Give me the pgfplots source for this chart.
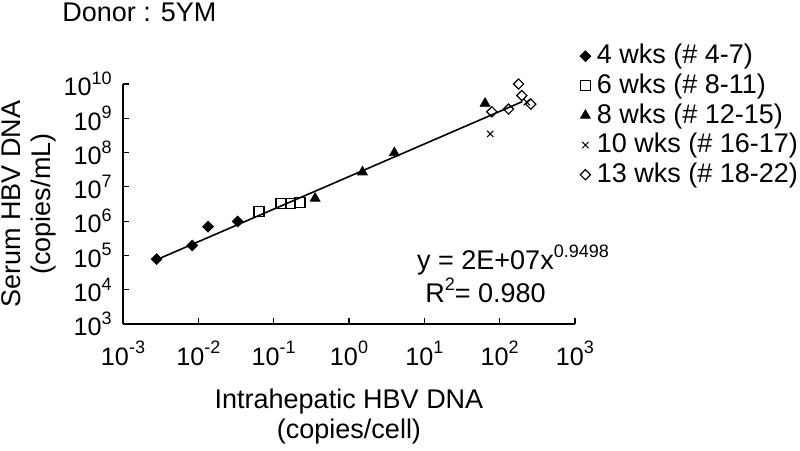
\documentclass[border=0pt]{standalone}
\usepackage{fontspec}
\setmainfont{Liberation Sans}
\usepackage{pgfplots}
\pgfplotsset{compat=1.18}
\newcommand{\sps}[1]{\raisebox{0.85ex}{\fontsize{9}{10}\selectfont #1}}
\newcommand{\mainfs}{\fontsize{13.5}{15}\selectfont}
\newcommand{\tickfs}{\fontsize{12.6}{14}\selectfont}
\begin{document}
\mainfs
\begin{tikzpicture}
\begin{axis}[
  at={(0pt,0pt)}, anchor=south west,
  scale only axis, width=226pt, height=120pt,
  xmode=log, ymode=log,
  xmin=1e-3, xmax=1e3, ymin=1e3, ymax=1e10,
  axis x line*=bottom, axis y line*=left,
  axis line style={line width=0.8pt, black},
  xtick={1e-3,1e-2,1e-1,1,1e1,1e2,1e3},
  xticklabels={10\sps{-3},10\sps{-2},10\sps{-1},10\sps{0},10\sps{1},10\sps{2},10\sps{3}},
  ytick={1e3,1e4,1e5,1e6,1e7,1e8,1e9,1e10},
  yticklabels={10\sps{3},10\sps{4},10\sps{5},10\sps{6},10\sps{7},10\sps{8},10\sps{9},10\sps{10}},
  xminorticks=false, yminorticks=false,
  tick align=inside, major tick length=3pt,
  tick style={line width=0.6pt, black},
  tick label style={font=\tickfs},
  xticklabel style={yshift=-4pt},
  yticklabel style={xshift=-1pt},
  clip=false,
  xlabel={Intrahepatic HBV DNA\\(copies/cell)},
  ylabel={Serum HBV DNA\\(copies/mL)},
  xlabel style={align=center, font=\mainfs, inner sep=0pt, at={(axis description cs:0.5,-0.27)}, anchor=north},
  ylabel style={align=center, font=\mainfs, inner sep=0pt, at={(axis description cs:-0.27,0.5)}, anchor=north},
  legend style={draw=none, fill=none, at={(axis description cs:0.997,1.2)}, anchor=north west, font=\mainfs, row sep=-1pt, column sep=1pt},
  legend cell align=left,
]
\addplot[black, line width=0.8pt, forget plot] coordinates {(0.0028,7.5e4) (200,3.06e9)};
\addplot[only marks, mark=square*, mark size=1.9pt, mark options={rotate=45, fill=black, draw=black}] coordinates {
(0.0028,7.8e4) (0.0083,1.95e5) (0.01346,6.9e5) (0.0333,9.8e5)};
\addlegendentry{4 wks (\# 4-7)}
\addplot[only marks, mark=square, mark size=2.5pt, mark options={draw=black, line width=0.6pt}] coordinates {
(0.064,1.9e6) (0.125,3.2e6) (0.167,3.2e6) (0.224,3.5e6)};
\addlegendentry{6 wks (\# 8-11)}
\addplot[only marks, mark=triangle*, mark size=2.8pt, mark options={fill=black, draw=black}] coordinates {
(0.355,4.6e6) (1.51,2.7e7) (4.0,9.8e7) (64,2.7e9)};
\addlegendentry{8 wks (\# 12-15)}
\addplot[only marks, mark=x, mark size=2.2pt, mark options={draw=black, line width=0.5pt}] coordinates {
(75,3.5e8) (229,2.95e9)};
\addlegendentry{10 wks (\# 16-17)}
\addplot[only marks, mark=square, mark size=1.8pt, mark options={rotate=45, draw=black, fill=white, line width=0.6pt}] coordinates {
(78.7,1.55e9) (131,1.86e9) (178,1.0e10) (197,4.6e9) (259,2.6e9)};
\addlegendentry{13 wks (\# 18-22)}
\node[anchor=west, font=\mainfs, inner sep=0pt] at (axis description cs:0.65,0.267) {y = 2E+07x\sps{0.9498}};
\node[anchor=west, font=\mainfs, inner sep=0pt] at (axis description cs:0.668,0.142) {R\sps{2}= 0.980};
\node[anchor=west, font=\mainfs, inner sep=0pt] at (axis description cs:-0.135,1.3) {Donor : 5YM};
\end{axis}
\pgfresetboundingbox
\path[use as bounding box] (-61.5pt,-63.5pt) rectangle (338.5pt,162pt);
\end{tikzpicture}
\end{document}
